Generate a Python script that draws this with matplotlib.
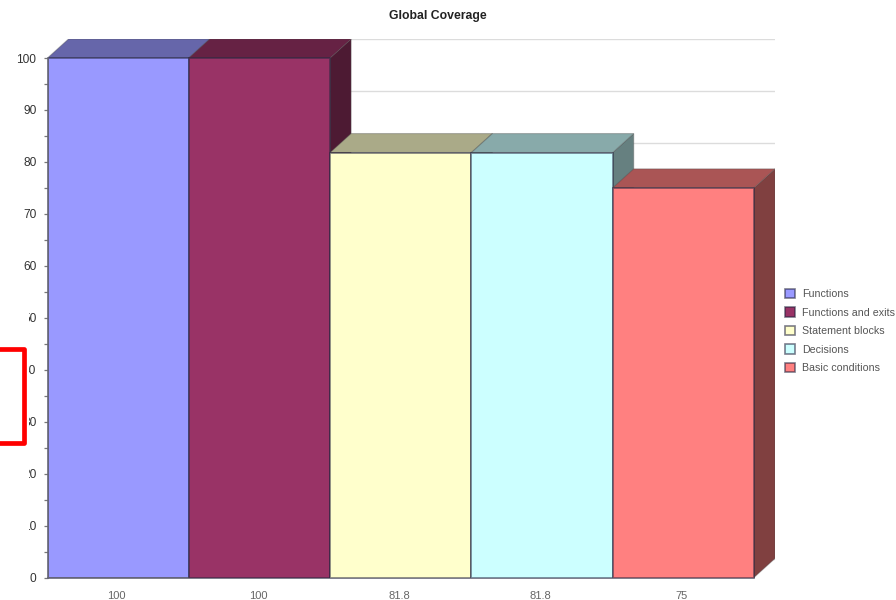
import matplotlib
matplotlib.use("Agg")
import matplotlib.pyplot as plt
from matplotlib.patches import Polygon, Rectangle
from matplotlib.colors import to_rgb
from matplotlib.transforms import ScaledTranslation

plt.rcParams['font.family'] = ['Liberation Sans', 'DejaVu Sans']

title = "Global Coverage"
categories = ["Functions", "Functions and exits", "Statement blocks", "Decisions", "Basic conditions"]
values = [100, 100, 81.8, 81.8, 75]
value_labels = ["100", "100", "81.8", "81.8", "75"]
colors = ["#9999FF", "#993366", "#FFFFCC", "#CCFFFF", "#FF8080"]
major_ticks = [0, 10, 20, 30, 40, 50, 60, 70, 80, 90, 100]
minor_ticks = [5, 15, 25, 35, 45, 55, 65, 75, 85, 95]

W, H = 896, 600
fig = plt.figure(figsize=(W / 100, H / 100), dpi=100, facecolor="white")
L, R, T, B = 47.5, 775, 39, 577.5
ax = fig.add_axes([L / W, 1 - B / H, (R - L) / W, (B - T) / H])

unit_x = (754 - L) / len(values)
unit_y = (B - 58) / 100
depth_x = (R - 754) / unit_x
depth_y = (58 - T) / unit_y
ax.set_xlim(0, len(values) + depth_x)
ax.set_ylim(0, 100 + depth_y)
ax.set_facecolor("none")

for s in ("top", "right"):
    ax.spines[s].set_visible(False)
ax.spines["left"].set_bounds(0, 100)
ax.spines["bottom"].set_bounds(0, len(values))
for s in ("left", "bottom"):
    ax.spines[s].set_color("#666677")
    ax.spines[s].set_linewidth(1.2)

ax.set_yticks(major_ticks)
ax.set_yticks(minor_ticks, minor=True)
ax.tick_params(axis="y", which="both", length=3, width=0.9, color="#777777",
               labelsize=8.6, labelcolor="#333333", pad=5.0)
ax.set_xticks([i + 0.5 for i in range(len(values))])
ax.set_xticklabels(value_labels)
ax.tick_params(axis="x", length=0, labelsize=8.0, labelcolor="#666666", pad=10)
for lab in ax.get_xticklabels():
    lab.set_transform(lab.get_transform() + ScaledTranslation(-1.5 / 100, 0, fig.dpi_scale_trans))

for m in major_ticks:
    ax.plot([depth_x, len(values) + depth_x], [m + depth_y] * 2, color="#dcdcdc", lw=1.0, zorder=1)


def shade(c, f):
    return tuple(v * f for v in to_rgb(c))


edge = (0.15, 0.15, 0.25, 0.6)
handles = []
for i, (v, c, name) in enumerate(zip(values, colors, categories)):
    x0, x1 = i, i + 1
    z = 2 + i
    ax.add_patch(Polygon([(x1, 0), (x1 + depth_x, depth_y), (x1 + depth_x, v + depth_y), (x1, v)],
                         closed=True, fc=shade(c, 0.5), ec=(0.3, 0.3, 0.3, 0.35), lw=0.8, zorder=z))
    ax.add_patch(Polygon([(x0, v), (x0 + depth_x, v + depth_y), (x1 + depth_x, v + depth_y), (x1, v)],
                         closed=True, fc=shade(c, 2 / 3), ec=(0.3, 0.3, 0.3, 0.35), lw=0.8, zorder=z))
    b = ax.bar(i + 0.5, v, width=1, color=c, edgecolor=edge, linewidth=1.2, zorder=z, label=name)
    handles.append(b[0])

fig.text(438 / W, 1 - 15.5 / H, title, ha="center", va="center", fontsize=8.8,
         fontweight="bold", color="#222222")

leg = fig.legend(handles=handles, labels=categories, loc="upper left",
                 bbox_to_anchor=(785 / W, 1 - 288.5 / H), bbox_transform=fig.transFigure,
                 frameon=False, fontsize=7.7, handlelength=0.95, handleheight=1.0,
                 handletextpad=0.65, labelspacing=0.76, borderpad=0, borderaxespad=0)
for t in leg.get_texts():
    t.set_color("#555555")

# white-out and red annotation box present over the tick labels
fig.add_artist(Rectangle((0, 1 - 535 / H), 28.5 / W, 230 / H, transform=fig.transFigure,
                         fc="white", ec="none", zorder=10))
fig.add_artist(Rectangle((-5 / W, 1 - 442.5 / H), 28.8 / W, 93.5 / H, transform=fig.transFigure,
                         fc="none", ec="#FF0000", lw=3.4, zorder=11, joinstyle="round"))

fig.savefig("out.png", dpi=100, facecolor="white")
